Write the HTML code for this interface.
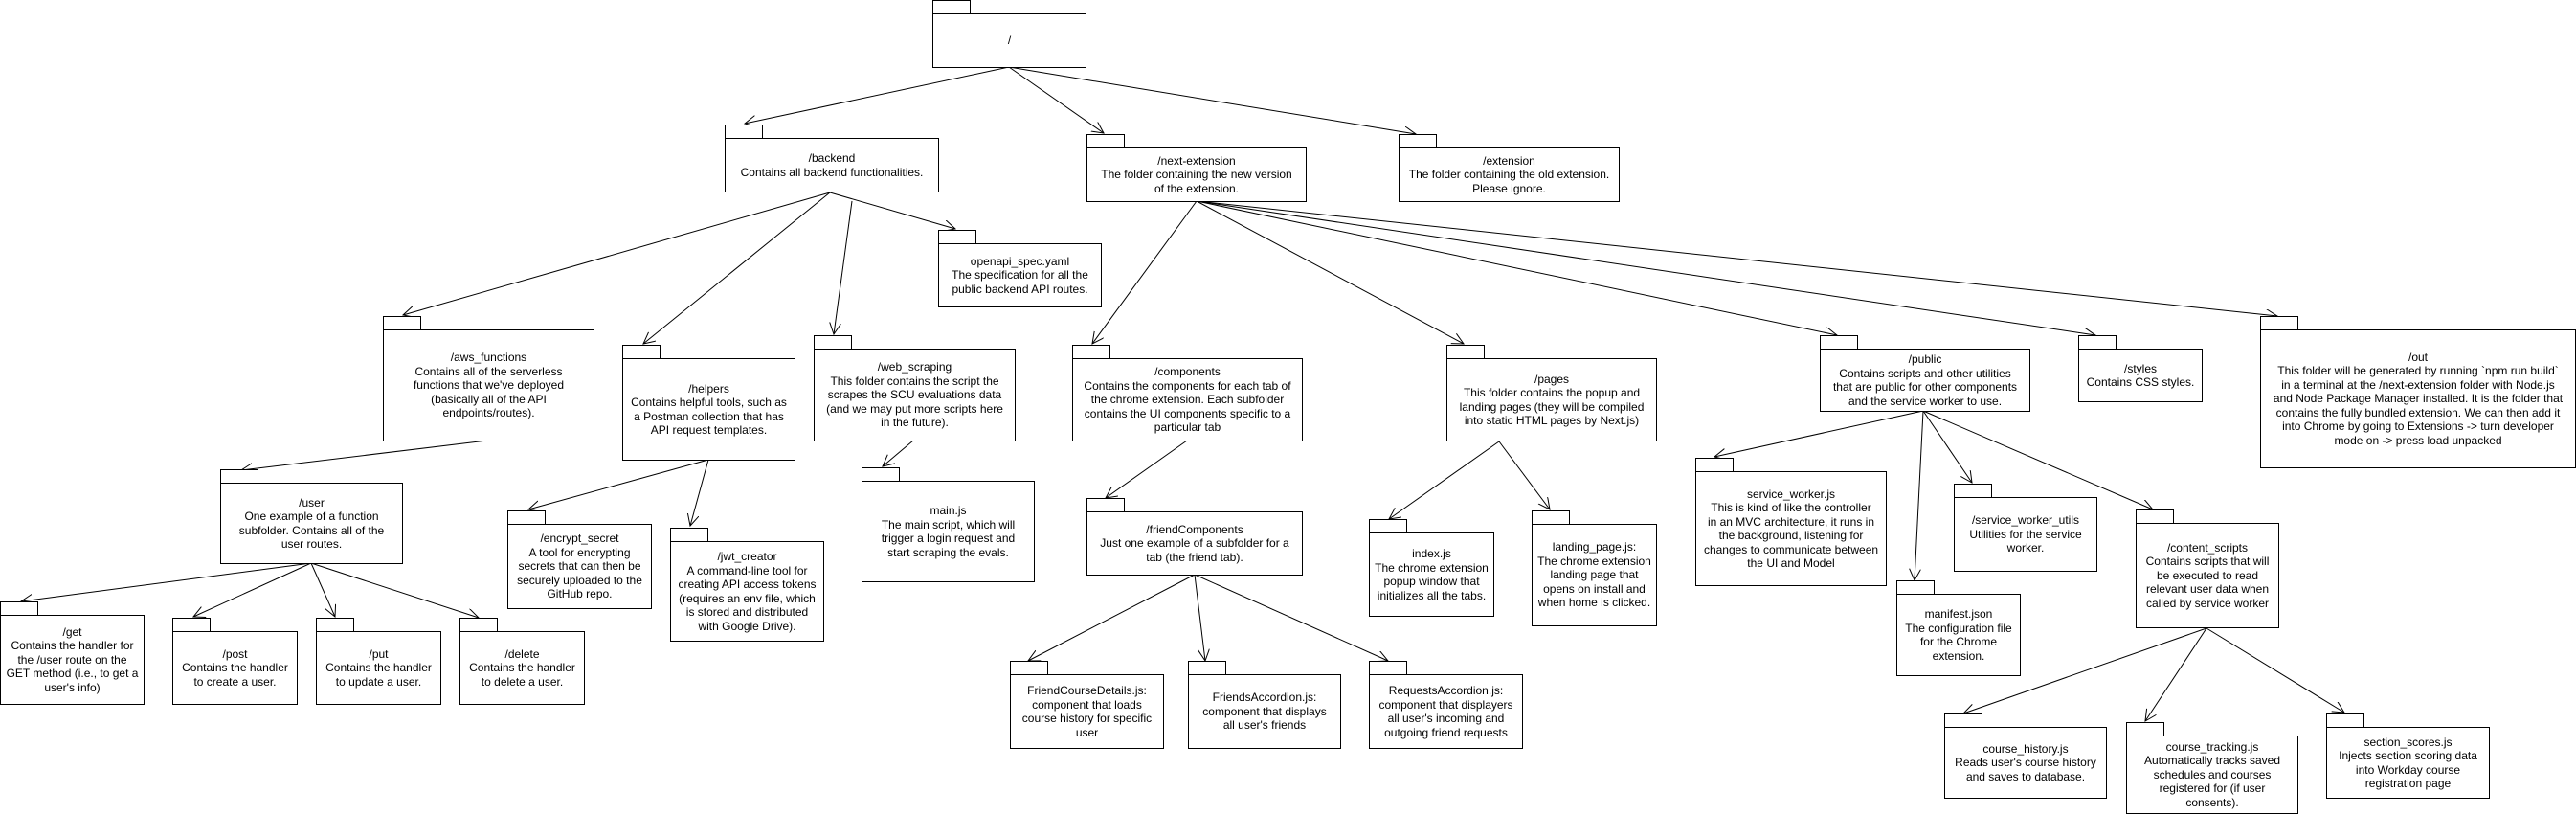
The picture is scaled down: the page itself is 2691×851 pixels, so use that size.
<!DOCTYPE html>
<html><head><meta charset="utf-8">
<style>
html,body{margin:0;padding:0;background:#fff;}
#c{position:relative;width:2691px;height:851px;overflow:hidden;background:#fff;font-family:"Liberation Sans",Arial,sans-serif;font-size:12px;line-height:14.5px;color:#000;}
.t{position:absolute;box-sizing:border-box;border:1px solid #000;background:#fff;width:40px;height:15px;}
.b{position:absolute;box-sizing:border-box;border:1px solid #000;background:#fff;display:flex;align-items:center;justify-content:center;text-align:center;white-space:nowrap;}
svg{position:absolute;left:0;top:0;}
</style></head><body><div id="c">
<svg width="2691" height="851" viewBox="0 0 2691 851">
<defs><marker id="a" markerWidth="14" markerHeight="14" refX="12" refY="6" orient="auto" markerUnits="userSpaceOnUse"><path d="M0,0 L12,6 L0,12" fill="none" stroke="#000" stroke-width="1"/></marker></defs>
<g stroke="#000" stroke-width="1" fill="none" marker-end="url(#a)">
<line x1="1054" y1="70" x2="778" y2="129"/>
<line x1="1054" y1="70" x2="1153" y2="139"/>
<line x1="1054" y1="70" x2="1479" y2="140"/>
<line x1="867" y1="201" x2="421" y2="329"/>
<line x1="867" y1="201" x2="672" y2="359"/>
<line x1="890" y1="210" x2="871" y2="349"/>
<line x1="867" y1="201" x2="998" y2="239"/>
<line x1="509" y1="460" x2="252" y2="491"/>
<line x1="325" y1="588" x2="22" y2="628"/>
<line x1="325" y1="588" x2="202" y2="644"/>
<line x1="325" y1="588" x2="350" y2="644"/>
<line x1="325" y1="588" x2="500" y2="645"/>
<line x1="740" y1="480" x2="552" y2="532"/>
<line x1="740" y1="480" x2="721" y2="549"/>
<line x1="954" y1="460" x2="922" y2="487"/>
<line x1="1250" y1="210" x2="1141" y2="359"/>
<line x1="1250" y1="210" x2="1529" y2="359"/>
<line x1="1250" y1="210" x2="1919" y2="350"/>
<line x1="1250" y1="210" x2="2189" y2="350"/>
<line x1="1250" y1="210" x2="2379" y2="330"/>
<line x1="1240" y1="460" x2="1155" y2="520"/>
<line x1="1248" y1="600" x2="1074" y2="690"/>
<line x1="1248" y1="600" x2="1259" y2="690"/>
<line x1="1248" y1="600" x2="1450" y2="690"/>
<line x1="1566" y1="461" x2="1451" y2="542"/>
<line x1="1566" y1="461" x2="1619" y2="532"/>
<line x1="2009" y1="429" x2="1791" y2="477"/>
<line x1="2009" y1="429" x2="2000" y2="606"/>
<line x1="2009" y1="429" x2="2060" y2="504"/>
<line x1="2009" y1="429" x2="2249" y2="532"/>
<line x1="2305" y1="656" x2="2051" y2="745"/>
<line x1="2305" y1="656" x2="2241" y2="753"/>
<line x1="2305" y1="656" x2="2449" y2="744"/>
</g></svg>

<div class="t" style="left:974px;top:0px"></div><div class="b" style="left:974px;top:14px;width:161px;height:57px">/</div>

<div class="t" style="left:757px;top:130px"></div><div class="b" style="left:757px;top:144px;width:224px;height:57px">/backend<br>Contains all backend functionalities.</div>

<div class="t" style="left:980px;top:240px"></div><div class="b" style="left:980px;top:254px;width:171px;height:67px">openapi_spec.yaml<br>The specification for all the<br>public backend API routes.</div>

<div class="t" style="left:1135px;top:140px"></div><div class="b" style="left:1135px;top:154px;width:230px;height:57px">/next-extension<br>The folder containing the new version<br>of the extension.</div>

<div class="t" style="left:1461px;top:140px"></div><div class="b" style="left:1461px;top:154px;width:231px;height:57px">/extension<br>The folder containing the old extension.<br>Please ignore.</div>

<div class="t" style="left:400px;top:330px"></div><div class="b" style="left:400px;top:344px;width:221px;height:117px">/aws_functions<br>Contains all of the serverless<br>functions that we've deployed<br>(basically all of the API<br>endpoints/routes).</div>

<div class="t" style="left:650px;top:360px"></div><div class="b" style="left:650px;top:374px;width:181px;height:107px">/helpers<br>Contains helpful tools, such as<br>a Postman collection that has<br>API request templates.</div>

<div class="t" style="left:850px;top:350px"></div><div class="b" style="left:850px;top:364px;width:211px;height:97px">/web_scraping<br>This folder contains the script the<br>scrapes the SCU evaluations data<br>(and we may put more scripts here<br>in the future).</div>

<div class="t" style="left:230px;top:490px"></div><div class="b" style="left:230px;top:504px;width:191px;height:85px">/user<br>One example of a function<br>subfolder. Contains all of the<br>user routes.</div>

<div class="t" style="left:0px;top:628px"></div><div class="b" style="left:0px;top:642px;width:151px;height:94px">/get<br>Contains the handler for<br>the /user route on the<br>GET method (i.e., to get a<br>user's info)</div>

<div class="t" style="left:180px;top:645px"></div><div class="b" style="left:180px;top:659px;width:131px;height:77px">/post<br>Contains the handler<br>to create a user.</div>

<div class="t" style="left:330px;top:645px"></div><div class="b" style="left:330px;top:659px;width:131px;height:77px">/put<br>Contains the handler<br>to update a user.</div>

<div class="t" style="left:480px;top:645px"></div><div class="b" style="left:480px;top:659px;width:131px;height:77px">/delete<br>Contains the handler<br>to delete a user.</div>

<div class="t" style="left:530px;top:533px"></div><div class="b" style="left:530px;top:547px;width:151px;height:89px">/encrypt_secret<br>A tool for encrypting<br>secrets that can then be<br>securely uploaded to the<br>GitHub repo.</div>

<div class="t" style="left:700px;top:551px"></div><div class="b" style="left:700px;top:565px;width:161px;height:105px">/jwt_creator<br>A command-line tool for<br>creating API access tokens<br>(requires an env file, which<br>is stored and distributed<br>with Google Drive).</div>

<div class="t" style="left:900px;top:488px"></div><div class="b" style="left:900px;top:502px;width:181px;height:106px">main.js<br>The main script, which will<br>trigger a login request and<br>start scraping the evals.</div>

<div class="t" style="left:1120px;top:360px"></div><div class="b" style="left:1120px;top:374px;width:241px;height:87px">/components<br>Contains the components for each tab of<br>the chrome extension. Each subfolder<br>contains the UI components specific to a<br>particular tab</div>

<div class="t" style="left:1135px;top:520px"></div><div class="b" style="left:1135px;top:534px;width:226px;height:67px">/friendComponents<br>Just one example of a subfolder for a<br>tab (the friend tab).</div>

<div class="t" style="left:1055px;top:690px"></div><div class="b" style="left:1055px;top:704px;width:161px;height:78px">FriendCourseDetails.js:<br>component that loads<br>course history for specific<br>user</div>

<div class="t" style="left:1241px;top:690px"></div><div class="b" style="left:1241px;top:704px;width:160px;height:78px">FriendsAccordion.js:<br>component that displays<br>all user's friends</div>

<div class="t" style="left:1430px;top:690px"></div><div class="b" style="left:1430px;top:704px;width:161px;height:78px">RequestsAccordion.js:<br>component that displayers<br>all user's incoming and<br>outgoing friend requests</div>

<div class="t" style="left:1511px;top:360px"></div><div class="b" style="left:1511px;top:374px;width:220px;height:87px">/pages<br>This folder contains the popup and<br>landing pages (they will be compiled<br>into static HTML pages by Next.js)</div>

<div class="t" style="left:1430px;top:542px"></div><div class="b" style="left:1430px;top:556px;width:131px;height:88px">index.js<br>The chrome extension<br>popup window that<br>initializes all the tabs.</div>

<div class="t" style="left:1600px;top:533px"></div><div class="b" style="left:1600px;top:547px;width:131px;height:107px">landing_page.js:<br>The chrome extension<br>landing page that<br>opens on install and<br>when home is clicked.</div>

<div class="t" style="left:1901px;top:350px"></div><div class="b" style="left:1901px;top:364px;width:220px;height:66px">/public<br>Contains scripts and other utilities<br>that are public for other components<br>and the service worker to use.</div>

<div class="t" style="left:2171px;top:350px"></div><div class="b" style="left:2171px;top:364px;width:130px;height:56px">/styles<br>Contains CSS styles.</div>

<div class="t" style="left:2361px;top:330px"></div><div class="b" style="left:2361px;top:344px;width:330px;height:145px">/out<br>This folder will be generated by running `npm run build`<br>in a terminal at the /next-extension folder with Node.js<br>and Node Package Manager installed. It is the folder that<br>contains the fully bundled extension. We can then add it<br>into Chrome by going to Extensions -&gt; turn developer<br>mode on -&gt; press load unpacked</div>

<div class="t" style="left:1771px;top:478px"></div><div class="b" style="left:1771px;top:492px;width:200px;height:120px">service_worker.js<br>This is kind of like the controller<br>in an MVC architecture, it runs in<br>the background, listening for<br>changes to communicate between<br>the UI and Model</div>

<div class="t" style="left:2041px;top:505px"></div><div class="b" style="left:2041px;top:519px;width:150px;height:78px">/service_worker_utils<br>Utilities for the service<br>worker.</div>

<div class="t" style="left:1981px;top:606px"></div><div class="b" style="left:1981px;top:620px;width:130px;height:86px">manifest.json<br>The configuration file<br>for the Chrome<br>extension.</div>

<div class="t" style="left:2231px;top:532px"></div><div class="b" style="left:2231px;top:546px;width:150px;height:110px">/content_scripts<br>Contains scripts that will<br>be executed to read<br>relevant user data when<br>called by service worker</div>

<div class="t" style="left:2031px;top:745px"></div><div class="b" style="left:2031px;top:759px;width:170px;height:75px">course_history.js<br>Reads user's course history<br>and saves to database.</div>

<div class="t" style="left:2221px;top:754px"></div><div class="b" style="left:2221px;top:768px;width:180px;height:82px">course_tracking.js<br>Automatically tracks saved<br>schedules and courses<br>registered for (if user<br>consents).</div>

<div class="t" style="left:2430px;top:745px"></div><div class="b" style="left:2430px;top:759px;width:171px;height:75px">section_scores.js<br>Injects section scoring data<br>into Workday course<br>registration page</div>

</div></body></html>
